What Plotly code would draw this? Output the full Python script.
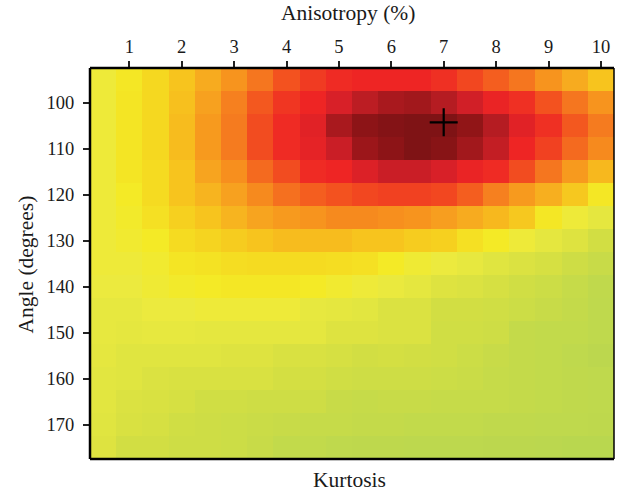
import plotly.graph_objects as go

kurtosis = [0.5 * i for i in range(1, 21)]
angles = [95 + 5 * i for i in range(17)]
tick_x = list(range(1, 11))
tick_y = list(range(100, 171, 10))

z_95 = [31, 36, 42, 47, 53, 60, 66, 72, 76, 79, 80, 80, 80, 78, 74, 70, 66, 60, 53, 47]
z_100 = [31, 37, 42, 48, 56, 64, 71, 77, 80, 85, 89, 92, 93, 90, 86, 81, 78, 72, 66, 60]
z_105 = [31, 37, 42, 49, 58, 65, 73, 79, 83, 92, 97, 99, 100, 100, 96, 90, 83, 78, 71, 65]
z_110 = [31, 37, 42, 49, 58, 65, 73, 79, 82, 87, 94, 97, 100, 98, 93, 88, 80, 75, 68, 62]
z_115 = [31, 37, 41, 47, 55, 61, 68, 73, 79, 80, 84, 87, 87, 85, 81, 79, 73, 66, 58, 50]
z_120 = [31, 35, 41, 47, 51, 56, 62, 67, 70, 72, 74, 75, 75, 74, 70, 64, 58, 52, 46, 36]
z_125 = [31, 34, 39, 44, 47, 51, 55, 58, 60, 62, 62, 61, 60, 57, 53, 50, 46, 36, 31, 27]
z_130 = [31, 33, 35, 41, 43, 45, 47, 49, 49, 49, 47, 47, 45, 44, 39, 35, 31, 27, 24, 19]
z_135 = [31, 31, 33, 37, 38, 40, 41, 41, 41, 40, 39, 35, 32, 30, 28, 25, 23, 21, 17, 14]
z_140 = [30, 30, 32, 34, 35, 36, 36, 36, 35, 33, 31, 29, 27, 24, 23, 21, 18, 16, 13, 10]
z_145 = [28, 28, 30, 30, 31, 31, 31, 31, 28, 27, 26, 23, 23, 19, 19, 18, 16, 14, 12, 9]
z_150 = [28, 27, 28, 28, 27, 27, 27, 27, 27, 24, 24, 23, 23, 18, 18, 17, 12, 11, 11, 9]
z_155 = [27, 25, 25, 25, 25, 24, 24, 22, 22, 21, 19, 20, 19, 18, 16, 14, 12, 11, 9, 6]
z_160 = [26, 25, 23, 22, 22, 22, 22, 20, 20, 18, 17, 17, 17, 16, 15, 13, 12, 11, 10, 9]
z_165 = [26, 23, 22, 21, 18, 18, 17, 17, 17, 14, 13, 14, 14, 13, 13, 13, 12, 11, 10, 9]
z_170 = [25, 22, 21, 18, 17, 16, 15, 14, 13, 13, 12, 12, 11, 11, 11, 10, 10, 9, 9, 8]
z_175 = [24, 19, 19, 17, 17, 16, 14, 11, 11, 9, 8, 8, 7, 7, 7, 6, 6, 5, 4, 4]
z = [z_95, z_100, z_105, z_110, z_115, z_120, z_125, z_130, z_135,
     z_140, z_145, z_150, z_155, z_160, z_165, z_170, z_175]

best_x = [7]
best_y = [104.3]

stops = [(0, "#b5d551"), (10, "#c0d94c"), (20, "#d4df42"), (30, "#ecea3e"), (35, "#f4ea26"),
         (42, "#f5d820"), (48, "#f7c01e"), (54, "#f7a71f"), (60, "#f7941e"), (66, "#f5761f"),
         (72, "#f3521f"), (78, "#ef3023"), (80, "#ee2524"), (85, "#d82028"), (90, "#b51c22"),
         (95, "#961518"), (100, "#7f1315")]
colorscale = [[v / 100, c] for v, c in stops]

font = "Liberation Serif"
ink = "#1a1a1a"
fig = go.Figure()
fig.add_trace(go.Heatmap(x=kurtosis, y=angles, z=z, zmin=0, zmax=100,
                         colorscale=colorscale, showscale=False))
fig.add_trace(go.Scatter(x=best_x, y=best_y, mode="markers", showlegend=False,
                         marker=dict(symbol="cross-thin", size=20,
                                     line=dict(color="black", width=2.2))))
fig.update_layout(
    width=622, height=492,
    margin=dict(l=90, r=8, t=68, b=33),
    paper_bgcolor="white", plot_bgcolor="white",
    font=dict(family=font, size=18.5, color=ink),
    annotations=[
        dict(text="Kurtosis", xref="paper", yref="paper", x=0.5, y=0, xshift=-3,
             yshift=-21, showarrow=False, yanchor="middle", xanchor="center",
             font=dict(family=font, size=21.5, color=ink)),
        dict(text="Anisotropy (%)", xref="paper", yref="paper", x=0.5, y=1, xshift=-4,
             yshift=55, showarrow=False, yanchor="middle", xanchor="center",
             font=dict(family=font, size=21.5, color=ink)),
        dict(text="Angle (degrees)", xref="paper", yref="paper", x=0, y=0.5, xshift=-65,
             yshift=-1, showarrow=False, yanchor="middle", xanchor="center", textangle=-90,
             font=dict(family=font, size=21.5, color=ink)),
    ],
)
fig.update_xaxes(side="top", range=[0.25, 10.25], tickvals=tick_x, ticks="outside", ticklen=6,
                 tickwidth=1.5, tickcolor="#222", showgrid=False, zeroline=False, automargin=False,
                 ticklabelstandoff=1, showline=False)
fig.update_yaxes(range=[177.5, 92.5], tickvals=tick_y, ticks="outside", ticklen=6,
                 tickwidth=1.5, tickcolor="#222", showgrid=False, zeroline=False, automargin=False,
                 ticklabelstandoff=5, showline=False)
frame = [(0, 0, 1, 0, 2.5), (0, 1, 1, 1, 2.5), (0, 0, 0, 1, 2.5), (1, 0, 1, 1, 1.5)]
for x0, y0, x1, y1, w in frame:
    fig.add_shape(type="line", xref="paper", yref="paper", x0=x0, x1=x1, y0=y0, y1=y1,
                  line=dict(color="black", width=w))
fig.write_html("out.html", config={"displayModeBar": False},
               post_script="document.body.style.margin='0';")
